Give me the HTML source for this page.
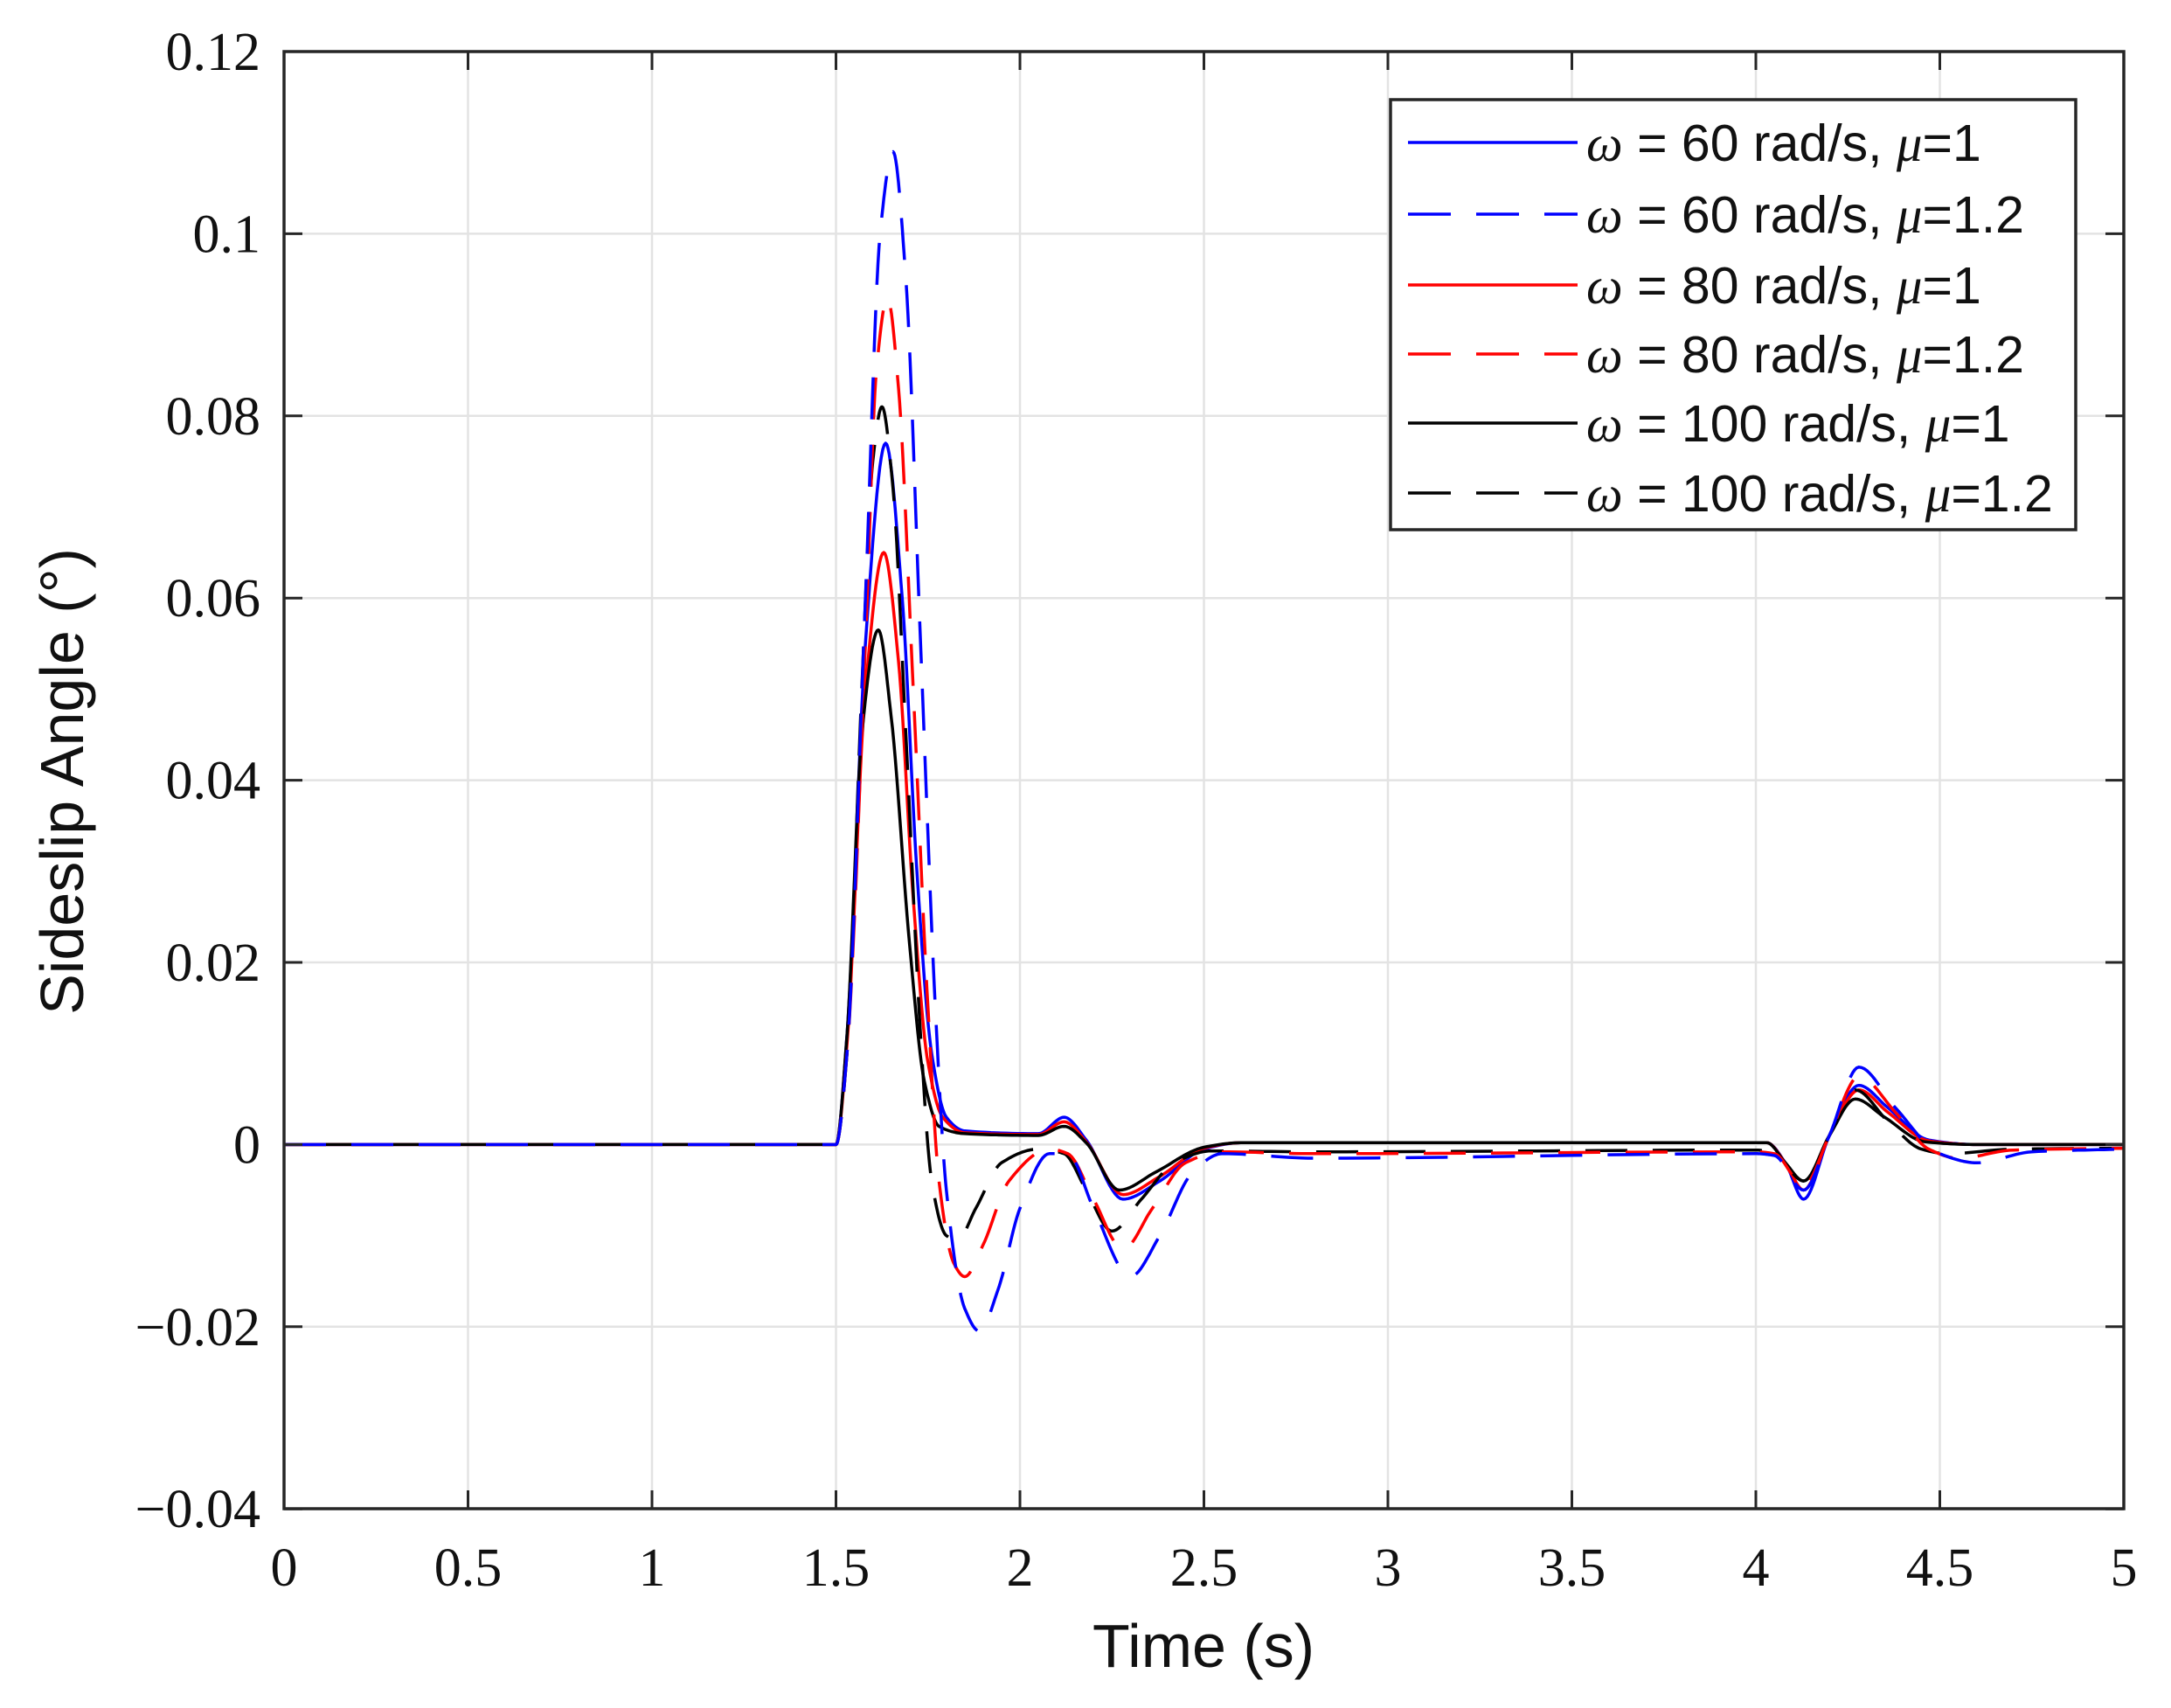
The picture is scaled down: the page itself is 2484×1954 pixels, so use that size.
<!DOCTYPE html>
<html><head><meta charset="utf-8"><style>
html,body{margin:0;padding:0;background:#fff;}
svg{display:block;}
</style></head><body>
<svg id="s" width="2484" height="1954" xmlns="http://www.w3.org/2000/svg">
<rect width="2484" height="1954" fill="#fff"/>
<g id="grid" stroke="#e3e3e3" stroke-width="2.5"></g>
<g id="curves" fill="none" stroke-width="3.5" stroke-linejoin="round"></g>
<rect x="325" y="59" width="2105" height="1667" fill="none" stroke="#262626" stroke-width="3.5"/>
<g id="ticks" stroke="#262626" stroke-width="3"></g>
<g id="labels" font-family="'Liberation Serif',serif" font-size="62" fill="#111"></g>
<text x="1377" y="1907" font-family="'Liberation Sans',sans-serif" font-size="70" text-anchor="middle" fill="#111">Time (s)</text>
<text transform="translate(95,894) rotate(-90)" font-family="'Liberation Sans',sans-serif" font-size="70" text-anchor="middle" fill="#111">Sideslip Angle (°)</text>
<g id="legend">
<rect x="1591" y="114" width="784" height="492" fill="#fff" stroke="#262626" stroke-width="3.5"/>
</g>
</svg>
<script>
var NS="http://www.w3.org/2000/svg";
function X(t){return 325+421*t;}
function Y(v){return 59+(0.12-v)/0.02*208.4;}
function el(p,tag,a,txt){var e=document.createElementNS(NS,tag);for(var k in a)e.setAttribute(k,a[k]);if(txt!==undefined)e.textContent=txt;p.appendChild(e);return e;}
var grid=document.getElementById('grid'),ticks=document.getElementById('ticks'),labels=document.getElementById('labels');
for(var i=0;i<=10;i++){var t=i*0.5,x=X(t);
 if(i>0&&i<10)el(grid,'line',{x1:x,y1:59,x2:x,y2:1726});
 el(ticks,'line',{x1:x,y1:1726,x2:x,y2:1705});el(ticks,'line',{x1:x,y1:59,x2:x,y2:80});
 el(labels,'text',{x:x,y:1814,'text-anchor':'middle'},String(t));}
var yl=['0.12','0.1','0.08','0.06','0.04','0.02','0','\u22120.02','\u22120.04'];
for(var j=0;j<=8;j++){var v=0.12-j*0.02,y=Y(v);
 if(j>0&&j<8)el(grid,'line',{x1:325,y1:y,x2:2430,y2:y});
 el(ticks,'line',{x1:325,y1:y,x2:346,y2:y});el(ticks,'line',{x1:2430,y1:y,x2:2409,y2:y});
 el(labels,'text',{x:298,y:y+21,'text-anchor':'end'},yl[j]);}
function path(p){
 var n=p.length,d=[],m=[];
 for(var i=0;i<n-1;i++)d.push((p[i+1][1]-p[i][1])/(p[i+1][0]-p[i][0]));
 m[0]=d[0];m[n-1]=d[n-2];
 for(var i=1;i<n-1;i++){ if(d[i-1]*d[i]<=0)m[i]=0; else {var w1=2*(p[i+1][0]-p[i][0])+(p[i][0]-p[i-1][0]),w2=(p[i+1][0]-p[i][0])+2*(p[i][0]-p[i-1][0]);m[i]=(w1+w2)/(w1/d[i-1]+w2/d[i]);}}
 var s='M'+X(p[0][0]).toFixed(1)+','+Y(p[0][1]).toFixed(1);
 for(var i=0;i<n-1;i++){var h=p[i+1][0]-p[i][0];
  for(var k=1;k<=14;k++){var u=k/14,u2=u*u,u3=u2*u;
   var y=(2*u3-3*u2+1)*p[i][1]+(u3-2*u2+u)*h*m[i]+(-2*u3+3*u2)*p[i+1][1]+(u3-u2)*h*m[i+1];
   s+=' L'+X(p[i][0]+u*h).toFixed(1)+','+Y(y).toFixed(1);}}
 return s;}
var S={
bd:[[0,0],[1.5,0],[1.53,0.01],[1.58,0.06],[1.62,0.1],[1.655,0.109],[1.69,0.095],[1.73,0.055],[1.77,0.015],[1.8,-0.005],[1.85,-0.018],[1.89,-0.0205],[1.94,-0.016],[2.0,-0.007],[2.08,-0.001],[2.13,-0.001],[2.2,-0.007],[2.3,-0.0145],[2.38,-0.01],[2.47,-0.003],[2.55,-0.001],[2.8,-0.0015],[4.0,-0.001],[4.05,-0.0012],[4.13,-0.005],[4.2,0.001],[4.28,0.0085],[4.38,0.004],[4.5,-0.001],[4.6,-0.002],[4.75,-0.0008],[5,-0.0005]],
rd:[[0,0],[1.5,0],[1.53,0.01],[1.58,0.055],[1.61,0.085],[1.64,0.093],[1.67,0.083],[1.71,0.05],[1.75,0.015],[1.78,-0.004],[1.82,-0.013],[1.85,-0.0145],[1.9,-0.011],[1.97,-0.004],[2.08,-0.0005],[2.13,-0.001],[2.2,-0.006],[2.28,-0.0115],[2.36,-0.007],[2.45,-0.002],[2.55,-0.0008],[2.8,-0.001],[4.0,-0.0008],[4.05,-0.001],[4.13,-0.0045],[4.2,0.001],[4.28,0.0075],[4.38,0.0035],[4.47,-0.0005],[4.55,-0.0015],[4.7,-0.0006],[5,-0.0004]],
kd:[[0,0],[1.5,0],[1.53,0.01],[1.57,0.05],[1.6,0.075],[1.625,0.081],[1.655,0.072],[1.69,0.045],[1.73,0.012],[1.76,-0.004],[1.8,-0.0100],[1.83,-0.0105],[1.88,-0.007],[1.95,-0.002],[2.05,-0.0005],[2.12,-0.001],[2.18,-0.005],[2.25,-0.0095],[2.33,-0.006],[2.42,-0.002],[2.52,-0.0007],[2.8,-0.0008],[4.0,-0.0006],[4.05,-0.001],[4.13,-0.004],[4.2,0.001],[4.27,0.006],[4.36,0.0025],[4.45,-0.0005],[4.52,-0.001],[4.7,-0.0005],[5,-0.0004]],
bs:[[0,0],[1.5,0],[1.53,0.012],[1.58,0.055],[1.635,0.077],[1.68,0.06],[1.72,0.03],[1.76,0.01],[1.8,0.003],[1.85,0.0015],[2.05,0.0012],[2.12,0.003],[2.18,0.0005],[2.28,-0.006],[2.38,-0.004],[2.5,-0.0005],[2.6,0.0002],[4.03,0.0002],[4.08,-0.002],[4.13,-0.006],[4.2,0.001],[4.28,0.0065],[4.36,0.004],[4.47,0.0005],[4.6,0],[5,0]],
rs:[[0,0],[1.5,0],[1.53,0.011],[1.58,0.05],[1.63,0.065],[1.67,0.053],[1.71,0.027],[1.75,0.009],[1.79,0.003],[1.85,0.0013],[2.05,0.0011],[2.12,0.0025],[2.18,0.0003],[2.28,-0.0055],[2.38,-0.0035],[2.5,-0.0004],[2.6,0.0002],[4.03,0.0002],[4.08,-0.002],[4.13,-0.005],[4.2,0.001],[4.28,0.006],[4.36,0.0035],[4.47,0.0004],[4.6,0],[5,0]],
ks:[[0,0],[1.5,0],[1.53,0.012],[1.57,0.045],[1.615,0.0565],[1.65,0.047],[1.7,0.022],[1.74,0.007],[1.78,0.002],[1.85,0.0012],[2.05,0.001],[2.12,0.002],[2.18,0.0002],[2.27,-0.005],[2.37,-0.003],[2.5,-0.0003],[2.6,0.0002],[4.03,0.0002],[4.08,-0.002],[4.13,-0.004],[4.2,0.001],[4.27,0.005],[4.35,0.003],[4.46,0.0003],[4.6,0],[5,0]]};
var C=document.getElementById('curves');
var order=[['bs','#0000ff',0],['rs','#ff0000',0],['ks','#000',0],['kd','#000',1],['rd','#ff0000',1],['bd','#0000ff',1]];
order.forEach(function(o){var a={d:path(S[o[0]]),stroke:o[1]};if(o[2])a['stroke-dasharray']='48 29';el(C,'path',a);});
var L=document.getElementById('legend');
var ents=[['#0000ff',0,'60','1'],['#0000ff',1,'60','1.2'],['#ff0000',0,'80','1'],['#ff0000',1,'80','1.2'],['#000',0,'100','1'],['#000',1,'100','1.2']];
var ys=[163,245,326,405,484,564];
ents.forEach(function(e,i){var y=ys[i];var a={x1:1611,y1:y,x2:1805,y2:y,stroke:e[0],'stroke-width':3.5};if(e[1])a['stroke-dasharray']='49 29';el(L,'line',a);
 var t=el(L,'text',{x:1815,y:y+21,'font-family':"'Liberation Sans',sans-serif",'font-size':59,fill:'#111'});
 el(t,'tspan',{'font-family':"'Liberation Serif',serif",'font-style':'italic'},'\u03c9');
 el(t,'tspan',{},' = '+e[2]+' rad/s, ');
 el(t,'tspan',{'font-family':"'Liberation Serif',serif",'font-style':'italic'},'\u03bc');
 el(t,'tspan',{},'='+e[3]);});
</script>
</body></html>
